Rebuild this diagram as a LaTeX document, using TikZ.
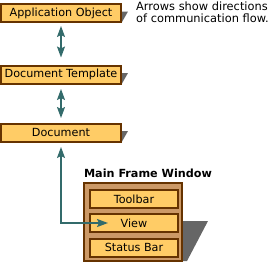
\documentclass[tikz,border=0pt]{standalone}
\usepackage{fontspec}
\setmainfont{DejaVu Sans}
\usetikzlibrary{arrows.meta}
\definecolor{boxfill}{RGB}{255,204,102}
\definecolor{boxline}{RGB}{102,51,0}
\definecolor{framefill}{RGB}{204,153,102}
\definecolor{shadowc}{RGB}{102,102,102}
\definecolor{arrc}{RGB}{51,107,107}
\begin{document}
\begin{tikzpicture}[x=1pt,y=-1pt,
  obox/.style={draw=boxline,line width=2pt,fill=boxfill,minimum width=120pt,minimum height=18pt,inner sep=0pt,font=\fontsize{11.2}{12}\selectfont},
  ibox/.style={draw=boxline,line width=2pt,fill=boxfill,minimum width=88pt,minimum height=18pt,inner sep=0pt,font=\fontsize{11.2}{12}\selectfont},
  fbox/.style={draw=boxline,line width=2pt,fill=framefill,minimum width=98pt,minimum height=78pt,inner sep=0pt},
  shad/.style={fill=shadowc,draw=none},
  arr/.style={draw=arrc,line width=1.8pt,{Stealth[length=11pt,width=8pt,inset=2pt]}-{Stealth[length=11pt,width=8pt,inset=2pt]}},
  lbl/.style={inner sep=0pt,font=\fontsize{11.4}{12}\selectfont}
]
\useasboundingbox (0,0) rectangle (274,263);
% shadows
\fill[shad] (119,11.5) -- (128,11.5) -- (122,22) -- (119,22) -- cycle;
\fill[shad] (119,73) -- (128,73) -- (122,83.5) -- (119,83.5) -- cycle;
\fill[shad] (119,131) -- (128,131) -- (122,141.5) -- (119,141.5) -- cycle;
\fill[shad] (178,221) -- (208,221) -- (187,261) -- (178,261) -- cycle;
% boxes
\node[obox] (app) at (61,13) {Application Object};
\node[obox] (doct) at (61,74.5) {Document Template};
\node[obox] (doc) at (61,132.5) {Document};
\node[fbox] (frame) at (133,222) {};
\node[ibox] (tool) at (134,199) {Toolbar};
\node[ibox] (view) at (134,223) {View};
\node[ibox] (stat) at (134,247.5) {Status Bar};
% texts
\node[lbl,anchor=north west,align=left] (note) at (136,1.5) {Arrows show directions\\of communication flow.};
\node[lbl,anchor=center,font=\fontsize{11.2}{12}\selectfont\bfseries] (title) at (148,173) {Main Frame Window};
% arrows
\draw[arr] ([yshift=-3pt]app.south) -- ([yshift=7pt]doct.north);
\draw[arr] ([yshift=-4.5pt]doct.south) -- ([yshift=4.5pt]doc.north);
\draw[arr] ([yshift=-4.5pt]doc.south) |- ([xshift=19pt]view.west);
\end{tikzpicture}
\end{document}
